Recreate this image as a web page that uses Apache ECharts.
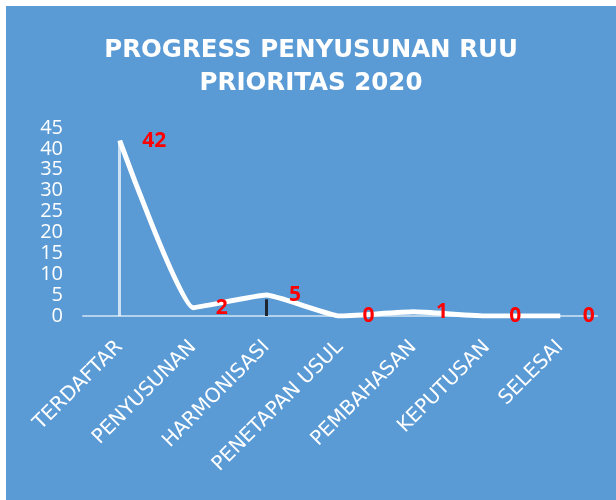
<!DOCTYPE html>
<html>
<head>
<meta charset="utf-8">
<script src="https://cdn.jsdelivr.net/npm/echarts@6/dist/echarts.min.js"></script>
<style>
  html, body { margin: 0; padding: 0; background: #fff; }
  #chart { position: absolute; left: 6px; top: 6px; width: 610px; height: 494px; }
</style>
</head>
<body>
<div id="chart"></div>
<script>
// data
const stages = ["TERDAFTAR", "PENYUSUNAN", "HARMONISASI", "PENETAPAN USUL", "PEMBAHASAN", "KEPUTUSAN", "SELESAI"];
const ruuCount = [42, 2, 5, 0, 1, 0, 0];
const yTicks = { min: 0, max: 45, interval: 5 };
const titleLines = ["PROGRESS PENYUSUNAN RUU", "PRIORITAS 2020"];

const FONT = "'Open Sans', 'Noto Sans', sans-serif";
const WIDE = "'DejaVu Sans', sans-serif";
const chart = echarts.init(document.getElementById("chart"));

chart.setOption({
  backgroundColor: "#5B9BD5",
  animation: false,
  title: {
    text: titleLines.join("\n"),
    left: "center",
    top: 23,
    textStyle: {
      color: "#fff",
      fontFamily: WIDE,
      fontWeight: "bold",
      fontSize: 24.5,
      lineHeight: 33,
    },
  },
  grid: { left: 77, right: 19, top: 122, bottom: 184 },
  xAxis: {
    type: "category",
    data: stages,
    boundaryGap: true,
    axisLine: { show: true, lineStyle: { color: "rgba(255,255,255,0.55)", width: 2 } },
    axisTick: { show: false },
    splitLine: { show: false },
    axisLabel: {
      rotate: 45,
      margin: 28,
      interval: 0,
      color: "#fff",
      fontFamily: WIDE,
      fontSize: 20,
    },
  },
  yAxis: {
    type: "value",
    min: yTicks.min,
    max: yTicks.max,
    interval: yTicks.interval,
    axisLine: { show: false },
    axisTick: { show: false },
    splitLine: { show: false },
    axisLabel: { color: "#fff", fontFamily: FONT, fontSize: 20, margin: 20 },
  },
  series: [
    {
      type: "line",
      data: ruuCount,
      smooth: 0.12,
      symbol: "circle",
      symbolSize: 1,
      itemStyle: { color: "rgba(255,255,255,0)" },
      lineStyle: { color: "#fff", width: 5 },
      label: {
        show: true,
        position: "right",
        distance: 22,
        color: "#FF0000",
        fontFamily: FONT,
        fontWeight: "bold",
        fontSize: 21,
      },
      markLine: {
        silent: true,
        symbol: "none",
        label: { show: false },
        data: [
          [
            { coord: [0, 0], lineStyle: { color: "rgba(255,255,255,0.7)", width: 3, type: "solid" } },
            { coord: [0, ruuCount[0]] },
          ],
          [
            { coord: [2, 0], lineStyle: { color: "#1f2630", width: 3, type: "solid" } },
            { coord: [2, ruuCount[2] - 1] },
          ],
        ],
      },
    },
  ],
});
</script>
</body>
</html>
